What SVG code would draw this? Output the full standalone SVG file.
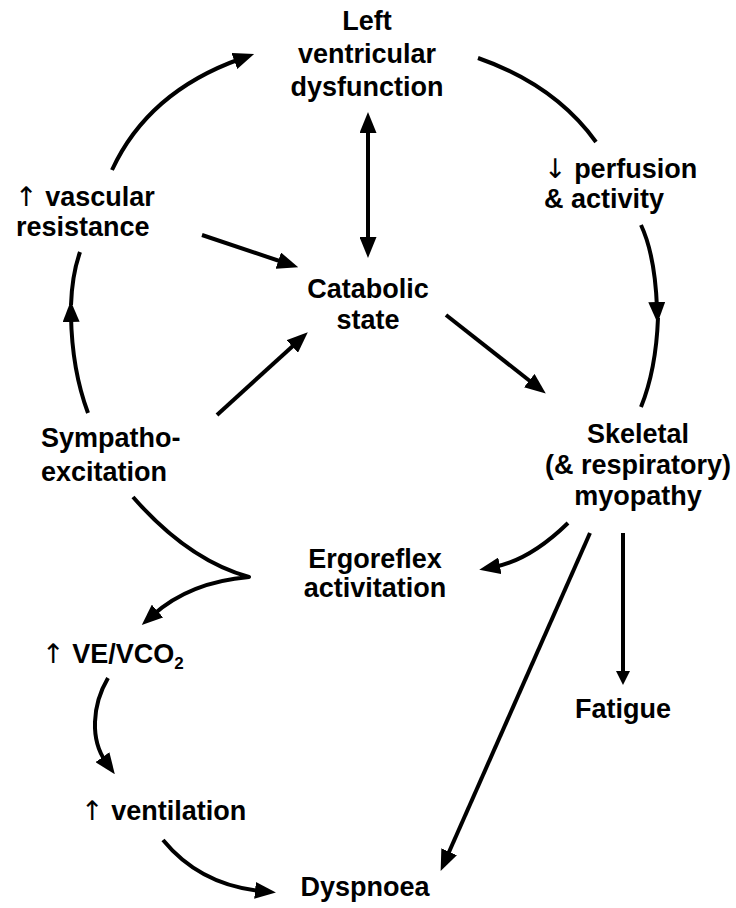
<svg xmlns="http://www.w3.org/2000/svg" width="736" height="908" viewBox="0 0 736 908">
<defs>
<style>
text{font-family:"Liberation Sans",Arial,sans-serif;font-weight:bold;font-size:27px;fill:#000}
.c{text-anchor:middle}
.ar{font-family:"DejaVu Sans","Liberation Sans",sans-serif;font-weight:normal;font-size:27px}
.ln{fill:none;stroke:#000;stroke-width:4;stroke-linecap:butt}
.ah{marker-end:url(#ah)}
</style>
<marker id="ah" viewBox="0 0 21 17" refX="6" refY="8.5" markerWidth="21" markerHeight="17" markerUnits="userSpaceOnUse" orient="auto-start-reverse"><path d="M0,0 L21,8.5 L0,17 z" fill="#000"/></marker>
<marker id="ahs" viewBox="0 0 14 14" refX="4" refY="7" markerWidth="14" markerHeight="14" markerUnits="userSpaceOnUse" orient="auto"><path d="M0,0 L14,7 L0,14 z" fill="#000"/></marker>
</defs>
<rect width="736" height="908" fill="#fff"/>
<g id="connectors">
<path class="ln ah" d="M112,170 Q148,92 240,59"/>
<path class="ln" d="M478,58 Q555,85 596,142"/>
<path class="ln ah" d="M641,225 Q655,255 657,308"/>
<path class="ln" d="M658,318 Q656,370 641,407"/>
<path class="ln ah" d="M368,127 L368,243" marker-start="url(#ah)"/>
<path class="ln ah" d="M202,235 L284,262.5"/>
<path class="ln ah" d="M217,415 L296.7,342.4"/>
<path class="ln ah" d="M88,413 Q72,370 71,316"/>
<path class="ln" d="M71,305 Q72,275 80,252"/>
<path class="ln ah" d="M446,315 L534,384.3"/>
<path class="ln ah" d="M133,497 Q188,560 249,577 Q190,582 153,615" stroke-linejoin="round"/>
<path class="ln ah" d="M568,523 Q530,560 494,567"/>
<path class="ln ah" d="M590,533 L446.7,857.2"/>
<path class="ln" d="M623,533 L623,675" marker-end="url(#ahs)"/>
<path class="ln ah" d="M108,678 C92,705 90,740 106,762"/>
<path class="ln ah" d="M163,840 Q200,885 261,891"/>
</g>
<g id="lv"><text class="c" x="367" y="30">Left</text><text class="c" x="367" y="63">ventricular</text><text class="c" x="367" y="96">dysfunction</text></g>
<g id="perfusion"><text x="544" y="178"><tspan class="ar">↓</tspan> perfusion</text><text x="544" y="208">&amp; activity</text></g>
<g id="vascular"><text x="15" y="206"><tspan class="ar">↑</tspan> vascular</text><text x="16" y="236">resistance</text></g>
<g id="catabolic"><text class="c" x="368" y="298">Catabolic</text><text class="c" x="368" y="329">state</text></g>
<g id="sympatho"><text x="41" y="447">Sympatho-</text><text x="41" y="481">excitation</text></g>
<g id="skeletal"><text class="c" x="638" y="443">Skeletal</text><text class="c" x="638" y="474">(&amp; respiratory)</text><text class="c" x="638" y="505">myopathy</text></g>
<g id="ergoreflex"><text class="c" x="375" y="568">Ergoreflex</text><text class="c" x="375" y="597">activitation</text></g>
<g id="vevco2"><text x="42" y="663"><tspan class="ar">↑</tspan> VE/VCO<tspan font-size="17" dy="6">2</tspan></text></g>
<g id="ventilation"><text x="81" y="820"><tspan class="ar">↑</tspan> ventilation</text></g>
<g id="dyspnoea"><text class="c" x="365" y="896">Dyspnoea</text></g>
<g id="fatigue"><text class="c" x="623" y="718">Fatigue</text></g>
</svg>
